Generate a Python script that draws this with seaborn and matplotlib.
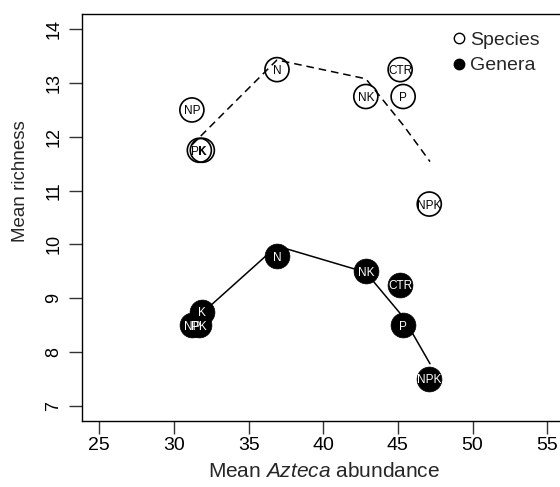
import matplotlib
matplotlib.use("Agg")
import matplotlib.pyplot as plt
from matplotlib.lines import Line2D
import seaborn as sns
import pandas as pd

# ---- data ----
treatments = ["CTR", "N", "P", "K", "NP", "NK", "PK", "NPK"]
azteca = [45.15, 36.9, 45.35, 31.9, 31.2, 42.85, 31.7, 47.1]
species = [13.25, 13.25, 12.75, 11.75, 12.5, 12.75, 11.75, 10.75]
genera = [9.25, 9.78, 8.5, 8.75, 8.5, 9.5, 8.5, 7.5]

fit_x = [31.2, 36.9, 42.85, 45.35, 47.15]
species_fit = [11.85, 13.43, 13.08, 12.22, 11.54]
genera_fit = [8.55, 9.97, 9.48, 8.65, 7.78]

x_ticks = [25, 30, 35, 40, 45, 50, 55]
y_ticks = [7, 8, 9, 10, 11, 12, 13, 14]

df = pd.DataFrame({"treatment": treatments, "azteca": azteca,
                   "species": species, "genera": genera})
fit = pd.DataFrame({"x": fit_x, "species": species_fit, "genera": genera_fit})

sns.set_style("white")
plt.rcParams["font.family"] = ["Liberation Sans", "DejaVu Sans"]
plt.rcParams["mathtext.fontset"] = "custom"
plt.rcParams["mathtext.it"] = "Liberation Sans:italic"
plt.rcParams["mathtext.rm"] = "Liberation Sans"

W, H = 560, 487
fig = plt.figure(figsize=(W / 100, H / 100), dpi=100)
left, right, top, bottom = 81.7, 560.0, 14.3, 421.0
ax = fig.add_axes([left / W, 1 - bottom / H, (right - left) / W, (bottom - top) / H])

# fitted lines
sns.lineplot(data=fit, x="x", y="species", ax=ax, color="black",
             linestyle=(0, (5, 3.2)), linewidth=1.1, sort=True, zorder=1)
sns.lineplot(data=fit, x="x", y="genera", ax=ax, color="black",
             linestyle="-", linewidth=1.1, sort=True, zorder=1)

# points
sns.scatterplot(data=df, x="azteca", y="species", ax=ax, s=300, marker="o",
                facecolors="none", edgecolor="black", linewidth=1.2, zorder=2)
sns.scatterplot(data=df, x="azteca", y="genera", ax=ax, s=320, marker="o",
                color="black", edgecolor="black", linewidth=0.5, zorder=3)

for t, xv, sv, gv in zip(treatments, azteca, species, genera):
    ax.text(xv, sv, t, ha="center", va="center_baseline", fontsize=8.5,
            color="black", zorder=4)
    ax.text(xv, gv, t, ha="center", va="center_baseline", fontsize=8.5,
            color="white", zorder=4)

ax.set_xlim(23.82, 55.857)
ax.set_ylim(6.715, 14.279)
ax.set_xticks(x_ticks)
ax.set_yticks(y_ticks)
ax.set_xticklabels([str(v) for v in x_ticks], fontsize=14)
ax.set_yticklabels([str(v) for v in y_ticks], rotation=90, va="center", fontsize=13)

for s in ["left", "bottom", "top"]:
    ax.spines[s].set_visible(True)
    ax.spines[s].set_color("black")
    ax.spines[s].set_linewidth(1.0)
ax.spines["right"].set_visible(False)

ax.tick_params(axis="both", direction="out", length=9.4, width=1.0,
               color="#333333", labelcolor="black")
ax.tick_params(axis="x", pad=2.0, bottom=True)
ax.tick_params(axis="y", pad=4.5, left=True)

ax.set_xlabel("Mean $\\it{Azteca}$ abundance", fontsize=15, va="center")
ax.set_ylabel("Mean richness", fontsize=13.5, va="center")
ax.xaxis.set_label_coords(0.5066, (bottom - 471.5) / (bottom - top))
ax.yaxis.set_label_coords((21 - left) / (right - left), (bottom - 181) / (bottom - top))

handles = [
    Line2D([], [], marker="o", linestyle="none", markerfacecolor="none",
           markeredgecolor="black", markersize=7.5, markeredgewidth=1.0),
    Line2D([], [], marker="o", linestyle="none", markerfacecolor="black",
           markeredgecolor="black", markersize=7.5),
]
leg = ax.legend(handles, ["Species", "Genera"], loc="upper left",
                bbox_to_anchor=(449 / W, 1 - 31 / H), bbox_transform=fig.transFigure,
                frameon=False, fontsize=14, handletextpad=0.1,
                handlelength=1.0, labelspacing=0.42, borderaxespad=0, borderpad=0)

fig.savefig("out.png", dpi=100)
